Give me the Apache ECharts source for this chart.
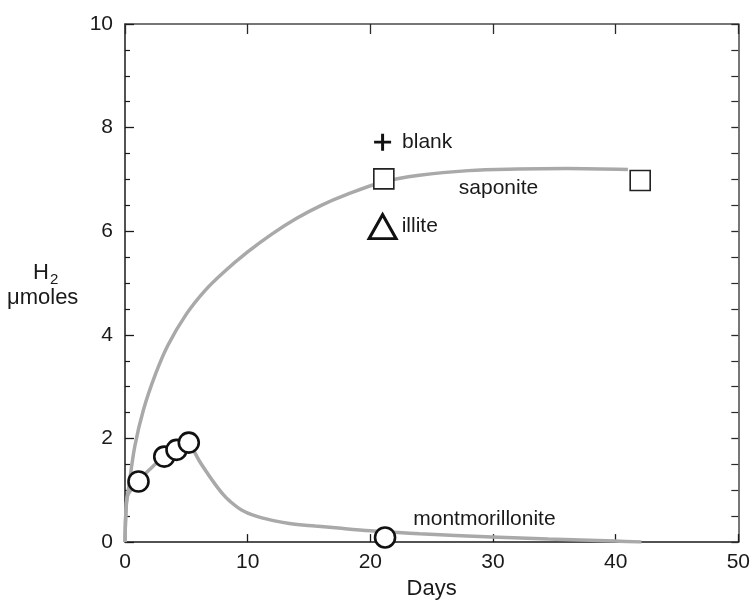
<!DOCTYPE html>
<html>
<head>
<meta charset="utf-8">
<script src="https://cdn.jsdelivr.net/npm/echarts@6/dist/echarts.min.js"></script>
<style>
html,body{margin:0;padding:0;background:#fff;}
#chart{width:753px;height:605px;}
</style>
</head>
<body>
<div id="chart"></div>
<script>
// ---- data ----
var xTicks = [0, 10, 20, 30, 40, 50];
var yTicks = [0, 2, 4, 6, 8, 10];

// fitted curves (gray)
var saponiteCurveX = [0, 0.1, 0.3, 0.8, 1.5, 2.5, 3.5, 5, 6.5, 8, 10, 12, 14, 16, 18, 21, 24, 28, 32, 36, 41];
var saponiteCurveY = [0, 0.7, 1.05, 1.85, 2.55, 3.25, 3.8, 4.4, 4.85, 5.2, 5.6, 5.95, 6.25, 6.5, 6.7, 6.95, 7.08, 7.17, 7.2, 7.21, 7.19];

var montCurveX = [0, 0.08, 0.25, 1.1, 2, 3.2, 4.2, 5.2, 5.7, 6.1, 6.8, 7.4, 8.0, 8.5, 9.5, 10.7, 12, 13.4, 15.5, 17.4, 20, 24, 29.9, 34.5, 39.9, 42.1];
var montCurveY = [0, 0.6, 0.92, 1.17, 1.4, 1.65, 1.78, 1.92, 1.72, 1.55, 1.3, 1.1, 0.92, 0.8, 0.62, 0.5, 0.42, 0.36, 0.31, 0.27, 0.22, 0.16, 0.1, 0.06, 0.02, 0];

// measured points
var montDays = [1.1, 3.2, 4.2, 5.2, 21.2, 42.1];
var montH2 = [1.17, 1.65, 1.78, 1.92, 0.09, -0.02];

var saponiteDays = [21.1, 42.0];
var saponiteH2 = [7.01, 6.98];

var blankDays = [21.0];
var blankH2 = [7.72];

var illiteDays = [21.0];
var illiteH2 = [6.09];

// text annotations: [label, day, value]
var annotations = [
  ['saponite', 30.45, 6.83],
  ['montmorillonite', 29.3, 0.44]
];

function zip(a, b) { return a.map(function (v, i) { return [v, b[i]]; }); }

var FONT = "'Liberation Sans', Arial, Helvetica, sans-serif";
var chart = echarts.init(document.getElementById('chart'), null, {renderer: 'canvas'});

var axisLineDark = {show: true, onZero: false, lineStyle: {color: '#1a1a1a', width: 1.5}};
var axisLineGray = {show: true, onZero: false, lineStyle: {color: '#4a4a4a', width: 1.5}};

var option = {
  animation: false,
  backgroundColor: '#ffffff',
  grid: {left: 125, right: 13, top: 24, bottom: 58, containLabel: false},
  xAxis: [{
    type: 'value', min: xTicks[0], max: xTicks[xTicks.length - 1], interval: 10,
    position: 'bottom',
    axisLine: axisLineDark,
    axisTick: {show: true, inside: true, length: 8, lineStyle: {color: '#1a1a1a', width: 1.3}},
    axisLabel: {show: true, margin: 10, color: '#1a1a1a', fontSize: 21, fontFamily: FONT},
    splitLine: {show: false},
    name: 'Days', nameLocation: 'middle', nameGap: 34,
    nameTextStyle: {color: '#1a1a1a', fontSize: 22, fontFamily: FONT}
  }, {
    type: 'value', min: xTicks[0], max: xTicks[xTicks.length - 1], interval: 10,
    position: 'top',
    axisLine: axisLineGray,
    axisTick: {show: true, inside: true, length: 10, lineStyle: {color: '#2a2a2a', width: 1.3}},
    axisLabel: {show: false},
    splitLine: {show: false}
  }],
  yAxis: [{
    type: 'value', min: yTicks[0], max: yTicks[yTicks.length - 1], interval: 2,
    position: 'left',
    axisLine: axisLineDark,
    axisTick: {show: true, inside: true, length: 9, lineStyle: {color: '#1a1a1a', width: 1.3}},
    minorTick: {show: true, splitNumber: 4, length: 5, lineStyle: {color: '#1a1a1a', width: 1.2}},
    axisLabel: {show: true, margin: 12, color: '#1a1a1a', fontSize: 21, fontFamily: FONT},
    splitLine: {show: false}
  }, {
    type: 'value', min: yTicks[0], max: yTicks[yTicks.length - 1], interval: 2,
    position: 'right',
    axisLine: axisLineGray,
    axisTick: {show: true, inside: true, length: 7, lineStyle: {color: '#2a2a2a', width: 1.3}},
    minorTick: {show: true, splitNumber: 4, length: 7, lineStyle: {color: '#2a2a2a', width: 1.2}},
    axisLabel: {show: false},
    splitLine: {show: false}
  }],
  series: [
    {
      name: 'saponite fit', type: 'line', data: zip(saponiteCurveX, saponiteCurveY),
      smooth: 0.35, showSymbol: false, symbol: 'none',
      lineStyle: {color: '#a9a9a9', width: 3.5}, z: 1
    },
    {
      name: 'montmorillonite fit', type: 'line', data: zip(montCurveX, montCurveY),
      smooth: 0.35, showSymbol: false, symbol: 'none',
      lineStyle: {color: '#a9a9a9', width: 3.5}, z: 1
    },
    {
      name: 'montmorillonite', type: 'scatter', data: zip(montDays, montH2),
      symbol: 'circle', symbolSize: 20,
      itemStyle: {color: '#ffffff', borderColor: '#111', borderWidth: 2.6, opacity: 1}, z: 5
    },
    {
      name: 'saponite', type: 'scatter', data: zip(saponiteDays, saponiteH2),
      symbol: 'rect', symbolSize: 20,
      itemStyle: {color: '#ffffff', borderColor: '#222', borderWidth: 1.6, opacity: 1}, z: 5
    },
    {
      name: 'blank', type: 'scatter', data: zip(blankDays, blankH2),
      symbol: 'path://M0,6.6 H6.6 V0 H9.4 V6.6 H16 V9.4 H9.4 V16 H6.6 V9.4 H0 Z',
      symbolSize: 17,
      itemStyle: {color: '#111', opacity: 1},
      label: {show: true, position: 'right', distance: 11, formatter: 'blank',
        color: '#1a1a1a', fontSize: 21, fontFamily: FONT}, z: 5
    },
    {
      name: 'illite', type: 'scatter', data: zip(illiteDays, illiteH2),
      symbol: 'triangle', symbolSize: [27, 24],
      itemStyle: {color: '#ffffff', borderColor: '#111', borderWidth: 3, opacity: 1},
      label: {show: true, position: 'right', distance: 4, formatter: 'illite',
        color: '#1a1a1a', fontSize: 21, fontFamily: FONT}, z: 5
    },
    {
      name: 'annotations', type: 'scatter', symbol: 'circle', symbolSize: 1,
      itemStyle: {color: '#ffffff', borderWidth: 0, opacity: 1},
      data: annotations.map(function (a) { return {name: a[0], value: [a[1], a[2]]}; }),
      label: {show: true, position: 'inside', formatter: '{b}', opacity: 1,
        textBorderWidth: 0, textBorderColor: 'transparent',
        color: '#1a1a1a', fontSize: 21, fontFamily: FONT}, z: 6,
      silent: true
    }
  ],
  graphic: [
    {type: 'text', left: 33, top: 262, style: {text: 'H', fontSize: 22, fontFamily: FONT, fill: '#1a1a1a'}},
    {type: 'text', left: 50, top: 272, style: {text: '2', fontSize: 15, fontFamily: FONT, fill: '#1a1a1a'}},
    {type: 'text', left: 7, top: 287, style: {text: 'μmoles', fontSize: 22, fontFamily: FONT, fill: '#1a1a1a'}}
  ]
};
chart.setOption(option);
</script>
</body>
</html>
